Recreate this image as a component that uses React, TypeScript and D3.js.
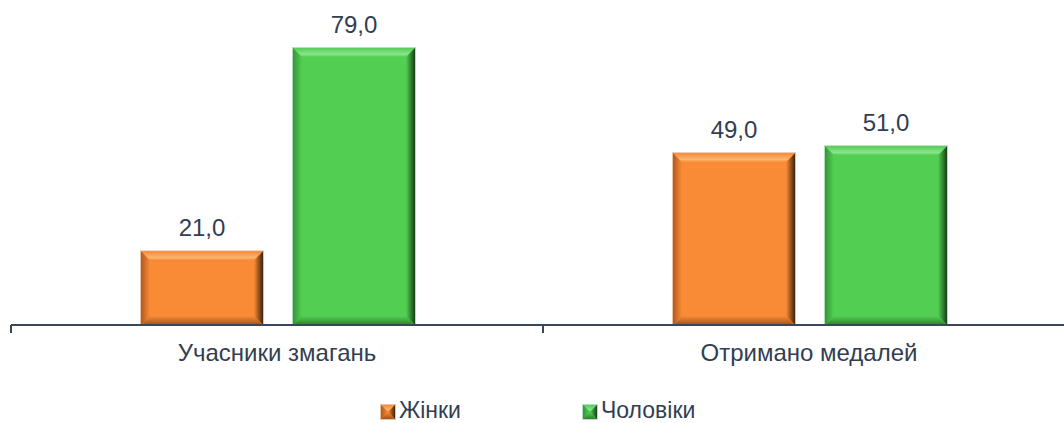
import React from "react";
import * as d3 from "d3";

const categories = ["Учасники змагань", "Отримано медалей"];
const seriesNames = ["Жінки", "Чоловіки"];
const women = [21.0, 49.0];
const men = [79.0, 51.0];

const W = 1064;
const H = 423;
const FONT = "'Liberation Sans', Arial, sans-serif";
const TEXT = "#323E50";
const AXIS = "#3B4658";

const palettes = [
  { id: "o", base: "#F98B36", topA: "#F48A3C", topB: "#FDB56E", left: "#B0591F", right: "#3E220B", bottom: "#9E531B", light: "#EBC2A6" },
  { id: "g", base: "#52CF52", topA: "#55CC55", topB: "#8AE58A", left: "#35953A", right: "#163F16", bottom: "#2F7E2F", light: "#B5DCC4" },
];

function Defs() {
  return (
    <defs>
      {palettes.map((p) => (
        <React.Fragment key={p.id}>
          <linearGradient id={`${p.id}-top`} x1="0" y1="0" x2="0" y2="1">
            <stop offset="0" stopColor={p.topA} />
            <stop offset="0.7" stopColor={p.topB} />
            <stop offset="1" stopColor={p.base} />
          </linearGradient>
          <linearGradient id={`${p.id}-left`} x1="0" y1="0" x2="1" y2="0">
            <stop offset="0" stopColor={p.left} />
            <stop offset="1" stopColor={p.base} />
          </linearGradient>
          <linearGradient id={`${p.id}-right`} x1="0" y1="0" x2="1" y2="0">
            <stop offset="0" stopColor={p.base} />
            <stop offset="1" stopColor={p.right} />
          </linearGradient>
          <linearGradient id={`${p.id}-bottom`} x1="0" y1="0" x2="0" y2="1">
            <stop offset="0" stopColor={p.base} />
            <stop offset="1" stopColor={p.bottom} />
          </linearGradient>
        </React.Fragment>
      ))}
    </defs>
  );
}

function BevelRect({ x, y, w, h, p, b }: any) {
  const bb = Math.min(b, h / 2, w / 2);
  const x2 = x + w;
  const y2 = y + h;
  return (
    <g>
      <rect x={x - 0.5} y={y - 0.5} width={w + 1} height={h + 1} fill="none" stroke={p.light} strokeWidth={1} />
      <rect x={x} y={y} width={w} height={h} fill={p.base} />
      <polygon points={`${x},${y} ${x2},${y} ${x2 - bb},${y + bb} ${x + bb},${y + bb}`} fill={`url(#${p.id}-top)`} />
      <polygon points={`${x},${y} ${x + bb},${y + bb} ${x + bb},${y2 - bb} ${x},${y2}`} fill={`url(#${p.id}-left)`} />
      <polygon points={`${x2},${y} ${x2},${y2} ${x2 - bb},${y2 - bb} ${x2 - bb},${y + bb}`} fill={`url(#${p.id}-right)`} />
      <polygon points={`${x},${y2} ${x + bb},${y2 - bb} ${x2 - bb},${y2 - bb} ${x2},${y2}`} fill={`url(#${p.id}-bottom)`} />
    </g>
  );
}

export default function App() {
  const axisY = 325;
  const x0 = d3.scaleBand<string>().domain(categories).range([11, 1075]).paddingInner(0).paddingOuter(0);
  const x1 = d3.scaleBand<string>().domain(seriesNames).range([130, 404]).paddingInner(0.197).paddingOuter(0);
  const y = d3.scaleLinear().domain([0, 79]).range([axisY, 48]);
  const series = [women, men];
  const fmt = (v: number) => v.toFixed(1).replace(".", ",");

  return (
    <svg width={W} height={H} style={{ position: "absolute", left: 0, top: 0 }} fontFamily={FONT}>
      <Defs />
      <rect width={W} height={H} fill="#ffffff" />
      {categories.map((c, ci) =>
        seriesNames.map((s, si) => {
          const v = series[si][ci];
          const bx = (x0(c) as number) + (x1(s) as number);
          const by = y(v);
          return (
            <g key={c + s}>
              <BevelRect x={bx} y={by} w={x1.bandwidth()} h={axisY - by} p={palettes[si]} b={9} />
              <text x={bx + x1.bandwidth() / 2} y={by - 15} textAnchor="middle" fontSize={24} fill={TEXT}>
                {fmt(v)}
              </text>
            </g>
          );
        })
      )}
      <line x1={11} x2={W} y1={axisY} y2={axisY} stroke={AXIS} strokeWidth={2} />
      {categories.map((c) => (
        <line key={c} x1={x0(c) as number} x2={x0(c) as number} y1={axisY} y2={axisY + 8} stroke={AXIS} strokeWidth={2} />
      ))}
      {categories.map((c) => (
        <text key={c} x={(x0(c) as number) + x0.bandwidth() / 2} y={361} textAnchor="middle" fontSize={24} fill={TEXT}>
          {c}
        </text>
      ))}
      {seriesNames.map((s, si) => {
        const lx = [381, 583][si];
        return (
          <g key={s}>
            <BevelRect x={lx} y={405} w={14} h={14} p={palettes[si]} b={7} />
            <text x={lx + 18} y={418} fontSize={23} fill={TEXT}>
              {s}
            </text>
          </g>
        );
      })}
    </svg>
  );
}
